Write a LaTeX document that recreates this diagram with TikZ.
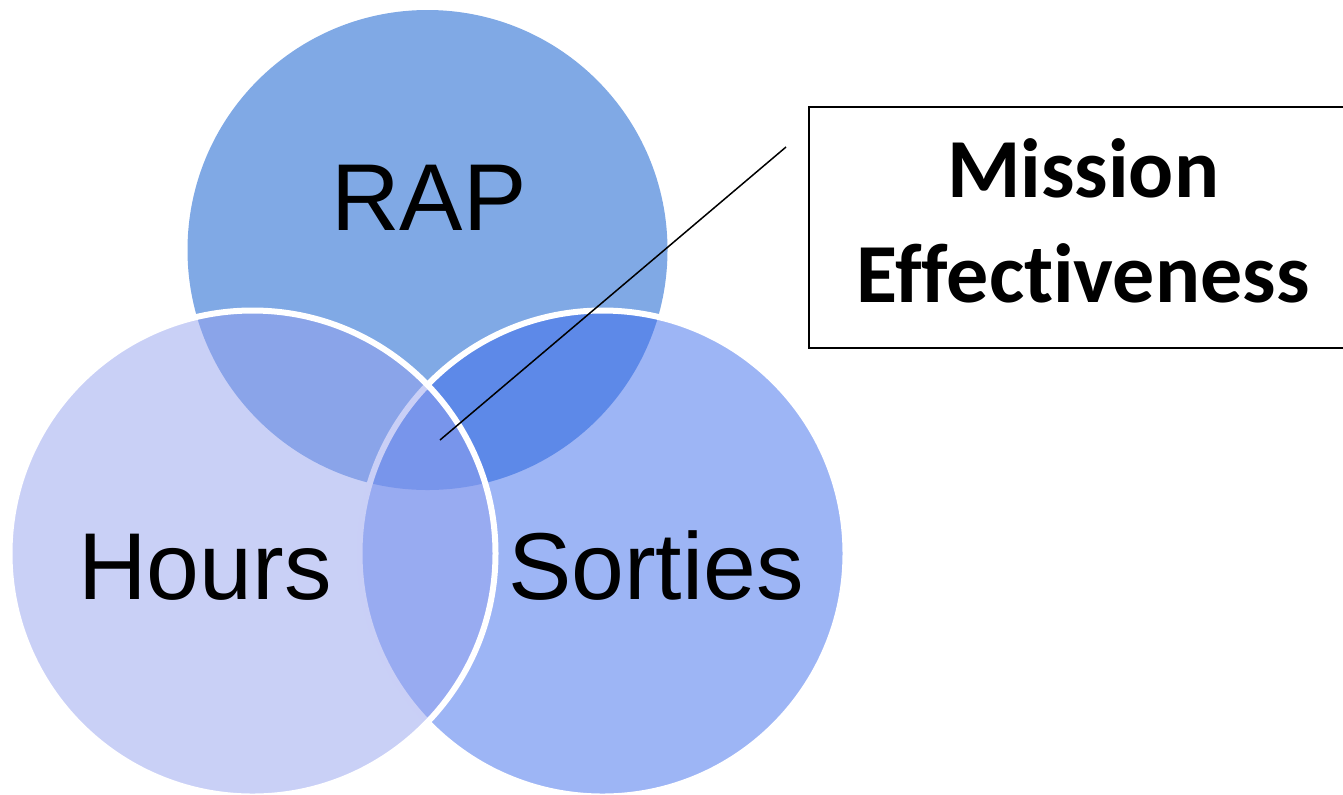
\documentclass[tikz,border=0pt]{standalone}
\usepackage{fontspec}
\setmainfont{Liberation Sans}
\newfontfamily\calibrifont[Ligatures=NoCommon]{Carlito}
\usepackage{xcolor}
\usepackage{tikz}
\definecolor{rapblue}{RGB}{128,169,229}
\definecolor{hoursblue}{RGB}{148,161,238}
\definecolor{sortieblue}{RGB}{60,107,235}

\begin{document}
\begin{tikzpicture}[
  x=0.5pt, y=-0.5pt,
  venn/.style={circle, minimum size=240pt, inner sep=0pt, outer sep=0pt},
  overlay set/.style={venn, minimum size=243pt, draw=white, line width=3pt, fill opacity=0.5},
  setname/.style={anchor=base, font=\fontsize{47.5}{57}\selectfont},
  mebox/.style={draw, line width=1pt},
  leader/.style={line width=0.75pt},
]
\path[use as bounding box, clip] (0,0) rectangle (1343,794);
\node[venn, fill=rapblue] (rap) at (427.5,250) {};
\node[overlay set, fill=sortieblue] (sorties) at (602.5,553.5) {};
\node[overlay set, fill=hoursblue] (hours) at (252.5,553.5) {};

\node[setname] (raplbl) at (429,230) {RAP};
\node[setname] (hourslbl) at (205,599) {Hours};
\node[setname] (sortieslbl) at (656,599) {Sorties};

\draw[mebox] (809,107) rectangle (1352,348);
\node[align=center, font=\calibrifont\bfseries\fontsize{42}{52.5}\selectfont] (me) at (1083,221) {Mission\\Effectiveness};

\coordinate (lead) at (786,147);
\coordinate (spot) at (440,440);
\draw[leader] (lead) -- (spot);
\end{tikzpicture}
\end{document}
